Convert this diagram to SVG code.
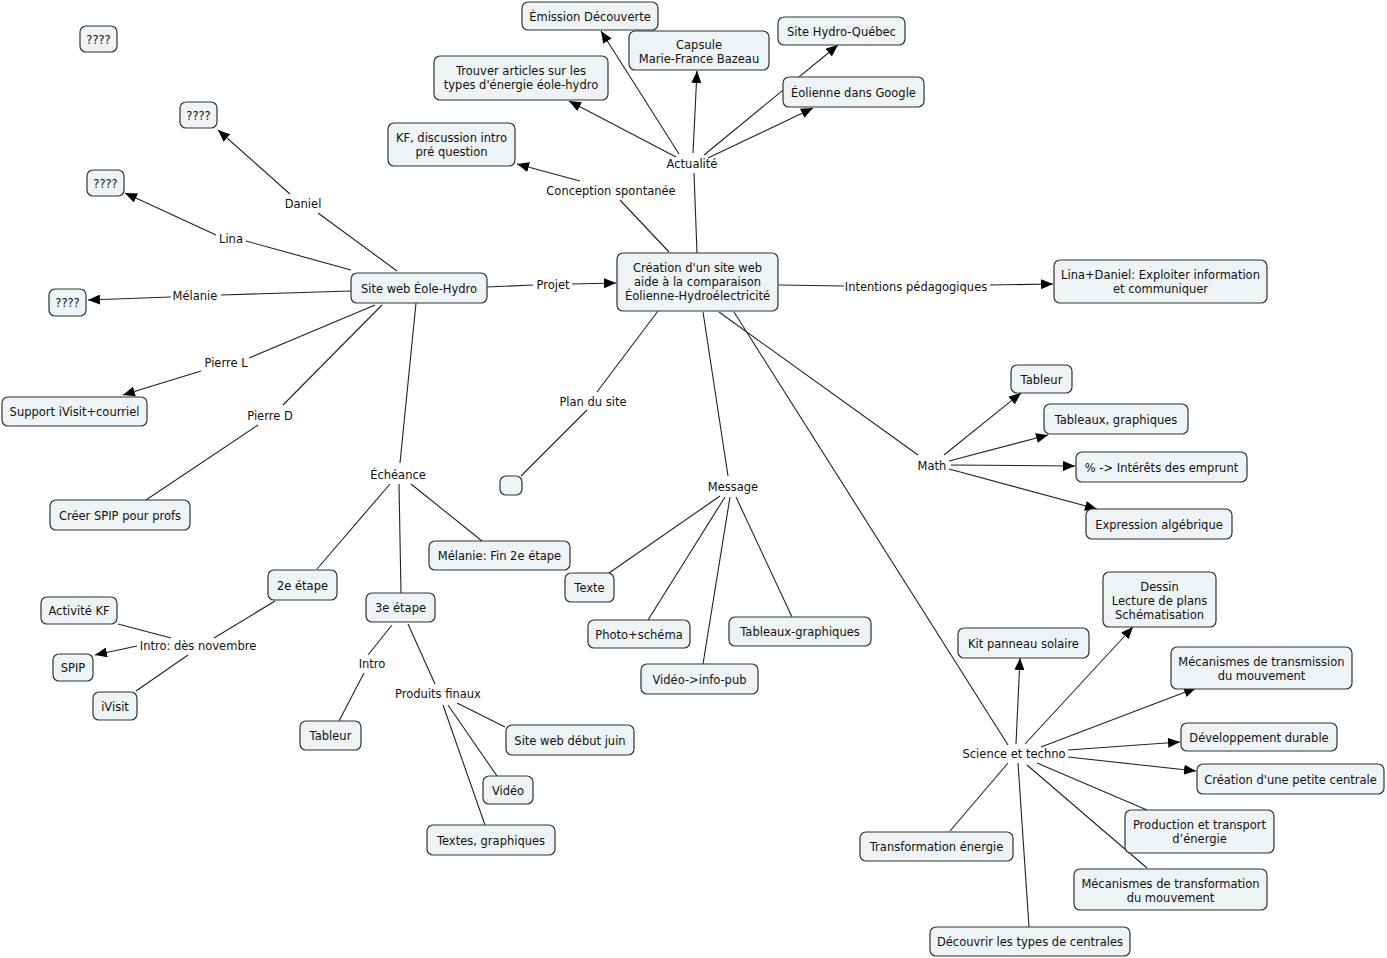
<svg xmlns="http://www.w3.org/2000/svg" width="1387" height="958" viewBox="0 0 1387 958">
<style>
.n rect{fill:#eef3f5;stroke:#333;stroke-width:1.2}
text{font-family:"DejaVu Sans",Verdana,sans-serif;font-size:11.5px;fill:#111;text-anchor:middle;transform:translate(0px,1px)}
.c line{stroke:#222;stroke-width:1.1}
.c line.a{marker-end:url(#ah)}
</style>
<defs>
<marker id="ah" viewBox="0 0 12 10" refX="12" refY="5" markerWidth="12" markerHeight="10" markerUnits="userSpaceOnUse" orient="auto">
<path d="M0,0 L12,5 L0,10 z" fill="#000"/>
</marker>
</defs>
<rect width="1387" height="958" fill="#fff"/>
<g class="c" id="connectors">
<line x1="397" y1="271" x2="318" y2="213"/><line class="a" x1="290" y1="194" x2="218" y2="130"/>
<line x1="351" y1="270" x2="246" y2="241"/><line class="a" x1="216" y1="235" x2="125" y2="193"/>
<line x1="351" y1="291" x2="221" y2="295"/><line class="a" x1="171" y1="297" x2="88" y2="300"/>
<line x1="375" y1="305" x2="249" y2="358"/><line class="a" x1="201" y1="371" x2="123" y2="395"/>
<line x1="382" y1="305" x2="283" y2="405"/><line x1="258" y1="425" x2="146" y2="500"/>
<line x1="487" y1="287" x2="533" y2="285"/><line class="a" x1="572" y1="284" x2="616" y2="283"/>
<line x1="416" y1="303" x2="400" y2="463"/>
<line x1="390" y1="484" x2="317" y2="569"/>
<line x1="399" y1="484" x2="401" y2="593"/>
<line x1="411" y1="484" x2="482" y2="541"/>
<line x1="275" y1="601" x2="214" y2="638"/>
<line x1="171" y1="638" x2="118" y2="624"/>
<line class="a" x1="137" y1="646" x2="95" y2="655"/>
<line x1="188" y1="655" x2="136" y2="691"/>
<line x1="392" y1="625" x2="368" y2="655"/><line x1="364" y1="673" x2="339" y2="721"/>
<line x1="408" y1="624" x2="435" y2="684"/>
<line x1="457" y1="703" x2="505" y2="727"/>
<line x1="448" y1="705" x2="497" y2="776"/>
<line x1="443" y1="705" x2="485" y2="825"/>
<line x1="669" y1="252" x2="620" y2="200"/><line class="a" x1="580" y1="181" x2="517" y2="164"/>
<line x1="697" y1="253" x2="694" y2="173"/>
<line class="a" x1="679" y1="154" x2="601" y2="31"/>
<line class="a" x1="693" y1="153" x2="697" y2="71"/>
<line class="a" x1="704" y1="155" x2="838" y2="45"/>
<line class="a" x1="708" y1="158" x2="813" y2="108"/>
<line class="a" x1="676" y1="157" x2="569" y2="101"/>
<line x1="779" y1="285" x2="844" y2="286"/><line class="a" x1="990" y1="285" x2="1053" y2="284"/>
<line x1="658" y1="311" x2="597" y2="392"/><line x1="587" y1="410" x2="521" y2="476"/>
<line x1="703" y1="312" x2="728" y2="476"/>
<line x1="720" y1="496" x2="609" y2="573"/>
<line x1="725" y1="497" x2="648" y2="620"/>
<line x1="730" y1="497" x2="703" y2="664"/>
<line x1="736" y1="497" x2="792" y2="617"/>
<line x1="719" y1="312" x2="918" y2="455"/>
<line class="a" x1="944" y1="455" x2="1021" y2="393"/>
<line class="a" x1="949" y1="461" x2="1048" y2="435"/>
<line class="a" x1="951" y1="465" x2="1075" y2="466"/>
<line class="a" x1="949" y1="469" x2="1097" y2="509"/>
<line x1="734" y1="312" x2="1008" y2="745"/>
<line class="a" x1="1016" y1="744" x2="1020" y2="658"/>
<line class="a" x1="1025" y1="744" x2="1133" y2="627"/>
<line class="a" x1="1041" y1="747" x2="1196" y2="688"/>
<line class="a" x1="1068" y1="750" x2="1180" y2="742"/>
<line class="a" x1="1068" y1="757" x2="1196" y2="771"/>
<line x1="1037" y1="763" x2="1147" y2="810"/>
<line x1="1027" y1="765" x2="1147" y2="868"/>
<line x1="1008" y1="763" x2="950" y2="831"/>
<line x1="1018" y1="763" x2="1029" y2="927"/>
</g>
<g id="labels">
<text x="303" y="207">Daniel</text>
<text x="231" y="242">Lina</text>
<text x="195" y="299">Mélanie</text>
<text x="226" y="366">Pierre L</text>
<text x="270" y="419">Pierre D</text>
<text x="553" y="288">Projet</text>
<text x="611" y="194">Conception spontanée</text>
<text x="692" y="167">Actualité</text>
<text x="916" y="290">Intentions pédagogiques</text>
<text x="593" y="405">Plan du site</text>
<text x="398" y="478">Échéance</text>
<text x="733" y="490">Message</text>
<text x="932" y="469">Math</text>
<text x="1014" y="757">Science et techno</text>
<text x="198" y="649">Intro: dès novembre</text>
<text x="372" y="667">Intro</text>
<text x="438" y="697">Produits finaux</text>
</g>
<g class="n" id="n1"><rect x="80" y="26" width="37" height="26" rx="6"/><text x="98.5" y="43">????</text></g>
<g class="n" id="n2"><rect x="180" y="102" width="37" height="26" rx="6"/><text x="198.5" y="119">????</text></g>
<g class="n" id="n3"><rect x="87" y="170" width="37" height="26" rx="6"/><text x="105.5" y="187">????</text></g>
<g class="n" id="n4"><rect x="49" y="289" width="37" height="27" rx="6"/><text x="67.5" y="306">????</text></g>
<g class="n" id="n5"><rect x="351" y="273" width="136" height="30" rx="6"/><text x="419" y="292">Site web Éole-Hydro</text></g>
<g class="n" id="n6"><rect x="617" y="253" width="161" height="58" rx="6"/><text x="697.5" y="271">Création d'un site web<tspan x="697.5" dy="14">aide à la comparaison</tspan><tspan x="697.5" dy="14">Éolienne-Hydroélectricité</tspan></text></g>
<g class="n" id="n7"><rect x="1054" y="260" width="213" height="43" rx="6"/><text x="1160.5" y="278">Lina+Daniel: Exploiter information<tspan x="1160.5" dy="14">et communiquer</tspan></text></g>
<g class="n" id="n8"><rect x="522" y="2" width="136" height="28" rx="6"/><text x="590" y="20">Émission Découverte</text></g>
<g class="n" id="n9"><rect x="629" y="31" width="140" height="39" rx="6"/><text x="699" y="48">Capsule<tspan x="699" dy="14">Marie-France Bazeau</tspan></text></g>
<g class="n" id="n10"><rect x="778" y="17" width="127" height="28" rx="6"/><text x="841.5" y="35">Site Hydro-Québec</text></g>
<g class="n" id="n11"><rect x="783" y="77" width="141" height="30" rx="6"/><text x="853.5" y="96">Éolienne dans Google</text></g>
<g class="n" id="n12"><rect x="434" y="56" width="174" height="44" rx="6"/><text x="521" y="74">Trouver articles sur les<tspan x="521" dy="14">types d'énergie éole-hydro</tspan></text></g>
<g class="n" id="n13"><rect x="388" y="123" width="127" height="43" rx="6"/><text x="451.5" y="141">KF, discussion intro<tspan x="451.5" dy="14">pré question</tspan></text></g>
<g class="n" id="n14"><rect x="2" y="397" width="145" height="29" rx="6"/><text x="74.5" y="415">Support iVisit+courriel</text></g>
<g class="n" id="n15"><rect x="50" y="500" width="140" height="30" rx="6"/><text x="120" y="519">Créer SPIP pour profs</text></g>
<g class="n" id="n16"><rect x="429" y="541" width="141" height="29" rx="6"/><text x="499.5" y="559">Mélanie: Fin 2e étape</text></g>
<g class="n" id="n17"><rect x="268" y="570" width="69" height="30" rx="6"/><text x="302.5" y="589">2e étape</text></g>
<g class="n" id="n18"><rect x="366" y="593" width="69" height="29" rx="6"/><text x="400.5" y="611">3e étape</text></g>
<g class="n" id="n19"><rect x="41" y="597" width="76" height="27" rx="6"/><text x="79" y="614">Activité KF</text></g>
<g class="n" id="n20"><rect x="53" y="654" width="40" height="27" rx="6"/><text x="73" y="671">SPIP</text></g>
<g class="n" id="n21"><rect x="93" y="692" width="44" height="28" rx="6"/><text x="115" y="710">iVisit</text></g>
<g class="n" id="n22"><rect x="300" y="721" width="61" height="29" rx="6"/><text x="330.5" y="739">Tableur</text></g>
<g class="n" id="n23"><rect x="506" y="725" width="128" height="30" rx="6"/><text x="570" y="744">Site web début juin</text></g>
<g class="n" id="n24"><rect x="483" y="776" width="50" height="28" rx="6"/><text x="508" y="794">Vidéo</text></g>
<g class="n" id="n25"><rect x="427" y="825" width="128" height="30" rx="6"/><text x="491" y="844">Textes, graphiques</text></g>
<g class="n" id="n26"><rect x="500" y="476" width="22" height="19" rx="6"/></g>
<g class="n" id="n27"><rect x="565" y="573" width="49" height="29" rx="6"/><text x="589.5" y="591">Texte</text></g>
<g class="n" id="n28"><rect x="588" y="620" width="102" height="28" rx="6"/><text x="639" y="638">Photo+schéma</text></g>
<g class="n" id="n29"><rect x="729" y="617" width="142" height="29" rx="6"/><text x="800" y="635">Tableaux-graphiques</text></g>
<g class="n" id="n30"><rect x="641" y="664" width="117" height="30" rx="6"/><text x="699.5" y="683">Vidéo-&gt;info-pub</text></g>
<g class="n" id="n31"><rect x="1011" y="365" width="61" height="28" rx="6"/><text x="1041.5" y="383">Tableur</text></g>
<g class="n" id="n32"><rect x="1044" y="404" width="144" height="30" rx="6"/><text x="1116" y="423">Tableaux, graphiques</text></g>
<g class="n" id="n33"><rect x="1076" y="452" width="171" height="30" rx="6"/><text x="1161.5" y="471">% -&gt; Intérêts des emprunt</text></g>
<g class="n" id="n34"><rect x="1086" y="509" width="146" height="30" rx="6"/><text x="1159" y="528">Expression algébrique</text></g>
<g class="n" id="n35"><rect x="1103" y="572" width="113" height="55" rx="6"/><text x="1159.5" y="590">Dessin<tspan x="1159.5" dy="14">Lecture de plans</tspan><tspan x="1159.5" dy="14">Schématisation</tspan></text></g>
<g class="n" id="n36"><rect x="958" y="628" width="131" height="30" rx="6"/><text x="1023.5" y="647">Kit panneau solaire</text></g>
<g class="n" id="n37"><rect x="1171" y="647" width="181" height="42" rx="6"/><text x="1261.5" y="665">Mécanismes de transmission<tspan x="1261.5" dy="14">du mouvement</tspan></text></g>
<g class="n" id="n38"><rect x="1181" y="723" width="156" height="28" rx="6"/><text x="1259" y="741">Développement durable</text></g>
<g class="n" id="n39"><rect x="1197" y="764" width="187" height="30" rx="6"/><text x="1290.5" y="783">Création d'une petite centrale</text></g>
<g class="n" id="n40"><rect x="1125" y="810" width="149" height="43" rx="6"/><text x="1199.5" y="828">Production et transport<tspan x="1199.5" dy="14">d’énergie</tspan></text></g>
<g class="n" id="n41"><rect x="1074" y="869" width="193" height="41" rx="6"/><text x="1170.5" y="887">Mécanismes de transformation<tspan x="1170.5" dy="14">du mouvement</tspan></text></g>
<g class="n" id="n42"><rect x="860" y="832" width="153" height="29" rx="6"/><text x="936.5" y="850">Transformation énergie</text></g>
<g class="n" id="n43"><rect x="930" y="927" width="200" height="29" rx="6"/><text x="1030" y="945">Découvrir les types de centrales</text></g>
</svg>
